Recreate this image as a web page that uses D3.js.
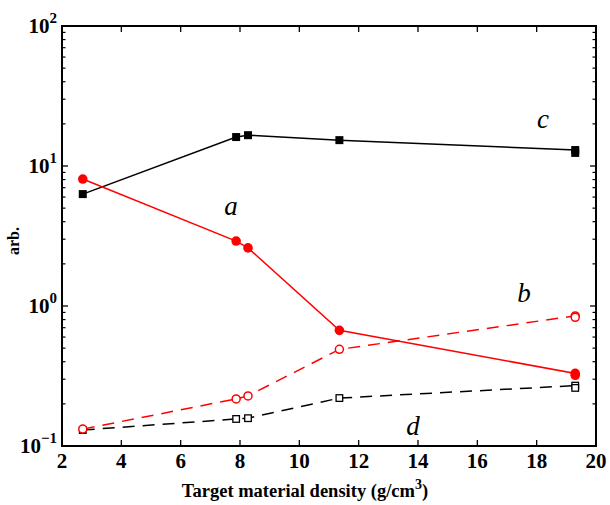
<!DOCTYPE html>
<html><head><meta charset="utf-8">
<script src="https://cdn.jsdelivr.net/npm/d3@7"></script>
<style>body{margin:0;background:#fff}svg{display:block}</style>
</head><body>
<svg id="chart" width="610" height="505"></svg>
<script>
const densities = [2.7, 7.87, 8.27, 11.35, 19.3, 19.3];
const seriesA = [8.07, 2.91, 2.6, 0.67, 0.33, 0.32];
const seriesB = [0.132, 0.217, 0.228, 0.49, 0.85, 0.83];
const seriesC = [6.3, 16.1, 16.6, 15.3, 13.0, 12.4];
const seriesD = [0.13, 0.156, 0.158, 0.22, 0.27, 0.26];
const xTicks = [2, 4, 6, 8, 10, 12, 14, 16, 18, 20];
const yExponents = [-1, 0, 1, 2];
const seriesLabels = [
  {text: "a", x: 7.70, y: 4.47},
  {text: "b", x: 17.57, y: 1.07},
  {text: "c", x: 18.21, y: 18.7},
  {text: "d", x: 13.83, y: 0.12}
];

const svg = d3.select("#chart");
const L = 62, R = 596, T = 26, B = 446;
const x = d3.scaleLinear().domain([2, 20]).range([L, R]);
const y = d3.scaleLog().domain([0.1, 100]).range([B, T]);
const serif = "'Liberation Serif','Times New Roman',serif";

const minor = [];
for (let e = -1; e < 2; e++) for (let k = 2; k <= 9; k++) minor.push(k * Math.pow(10, e));

const g = svg.append("g");
g.append("rect").attr("x", L).attr("y", T).attr("width", R - L).attr("height", B - T)
  .attr("fill", "none").attr("stroke", "#000").attr("stroke-width", 2);

xTicks.forEach(v => {
  g.append("line").attr("x1", x(v)).attr("x2", x(v)).attr("y1", B).attr("y2", B - 6).attr("stroke", "#000").attr("stroke-width", 1.3);
  g.append("line").attr("x1", x(v)).attr("x2", x(v)).attr("y1", T).attr("y2", T + 6).attr("stroke", "#000").attr("stroke-width", 1.3);
  g.append("text").attr("x", x(v)).attr("y", 468).attr("text-anchor", "middle")
    .attr("font-family", serif).attr("font-weight", "bold").attr("font-size", 21).text(v);
});
yExponents.forEach(e => {
  const v = Math.pow(10, e);
  [[L, L + 6], [R, R - 6]].forEach(([a, b]) =>
    g.append("line").attr("x1", a).attr("x2", b).attr("y1", y(v)).attr("y2", y(v)).attr("stroke", "#000").attr("stroke-width", 1.3));
  const t = g.append("text").attr("x", 57).attr("y", y(v) + 7).attr("text-anchor", "end")
    .attr("font-family", serif).attr("font-weight", "bold").attr("font-size", 21);
  t.append("tspan").text("10");
  t.append("tspan").attr("dy", -10).attr("font-size", 15).text(e < 0 ? "\u22121" : e);
});
minor.forEach(v => {
  [[L, L + 3.5], [R, R - 3.5]].forEach(([a, b]) =>
    g.append("line").attr("x1", a).attr("x2", b).attr("y1", y(v)).attr("y2", y(v)).attr("stroke", "#000").attr("stroke-width", 1.2));
});

const xt = svg.append("text").attr("x", 305).attr("y", 497).attr("text-anchor", "middle")
  .attr("font-family", serif).attr("font-weight", "bold").attr("font-size", 18.5);
xt.append("tspan").text("Target material density (g/cm");
xt.append("tspan").attr("dy", -8).attr("font-size", 14).text("3");
xt.append("tspan").attr("dy", 8).text(")");
svg.append("text").attr("transform", "translate(19,241) rotate(-90)").attr("text-anchor", "middle")
  .attr("font-family", serif).attr("font-weight", "bold").attr("font-size", 16).text("arb.");

function draw(vals, color, dashed, marker) {
  const pts = densities.map((d, i) => [d, vals[i]]);
  const line = d3.line().x(d => x(d[0])).y(d => y(d[1]));
  svg.append("path").attr("d", line(pts)).attr("fill", "none").attr("stroke", color)
    .attr("stroke-width", 1.5).attr("stroke-dasharray", dashed ? "12,8" : null);
  pts.forEach(p => {
    const cx = x(p[0]), cy = y(p[1]);
    if (marker === "fcircle") svg.append("circle").attr("cx", cx).attr("cy", cy).attr("r", 4.8).attr("fill", color);
    else if (marker === "ocircle") svg.append("circle").attr("cx", cx).attr("cy", cy).attr("r", 4).attr("fill", "#fff").attr("stroke", color).attr("stroke-width", 1.5);
    else if (marker === "fsquare") svg.append("rect").attr("x", cx - 4).attr("y", cy - 4).attr("width", 8).attr("height", 8).attr("fill", color);
    else svg.append("rect").attr("x", cx - 3.3).attr("y", cy - 3.3).attr("width", 6.6).attr("height", 6.6).attr("fill", "#fff").attr("stroke", color).attr("stroke-width", 1.3);
  });
}
draw(seriesD, "#000", true, "osquare");
draw(seriesB, "#ff0000", true, "ocircle");
draw(seriesC, "#000", false, "fsquare");
draw(seriesA, "#ff0000", false, "fcircle");

seriesLabels.forEach(l => {
  svg.append("text").attr("x", x(l.x)).attr("y", y(l.y)).attr("text-anchor", "middle")
    .attr("font-family", serif).attr("font-style", "italic").attr("font-size", 27).attr("fill", "#000").text(l.text);
});
</script>
</body></html>
